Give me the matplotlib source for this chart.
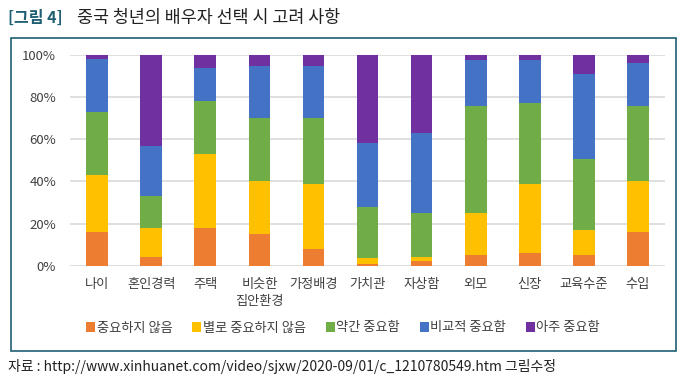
import numpy as np
import matplotlib
matplotlib.use("Agg")
import matplotlib.pyplot as plt
from matplotlib.patches import Rectangle

plt.rcParams['font.family'] = ['Noto Sans CJK KR', 'DejaVu Sans']

# ---- data (percent) ----
categories = ['나이', '혼인경력', '주택', '비슷한\n집안환경', '가정배경', '가치관',
              '자상함', '외모', '신장', '교육수준', '수입']
series_names = ['중요하지 않음', '별로 중요하지 않음', '약간 중요함', '비교적 중요함', '아주 중요함']
not_important = [16, 4, 18, 15, 8, 1, 2.4, 5, 6, 5, 16]
not_very = [27, 14, 35, 25, 31, 2.5, 1.7, 20, 33, 12, 24]
somewhat = [30, 15, 25, 30, 31, 24.5, 21, 51, 38, 33.5, 36]
fairly = [25, 24, 16, 25, 25, 30, 38, 21.5, 20.5, 40.5, 20]
very = [2, 43, 6, 5, 5, 42, 37, 2.5, 2.5, 9, 4]
series = [not_important, not_very, somewhat, fairly, very]
colors = ['#ED7D31', '#FFC000', '#70AD47', '#4472C4', '#7030A0']

W, H = 686, 384
fig = plt.figure(figsize=(W / 100, H / 100), dpi=100)

# frame around the chart
fig.patches.append(Rectangle((11 / W, 1 - 351 / H), (676 - 11) / W, (351 - 38) / H,
                             transform=fig.transFigure, fill=False,
                             edgecolor='#1F5F73', linewidth=1.2))

ax = fig.add_axes([70 / W, 1 - 265.7 / H, (665 - 70) / W, (265.7 - 55) / H])
x = np.arange(len(categories))
bottom = np.zeros(len(categories))
handles = []
for vals, name, col in zip(series, series_names, colors):
    vals = np.array(vals, dtype=float)
    b = ax.bar(x, vals, 0.4, bottom=bottom, color=col, label=name, zorder=3)
    handles.append(b)
    bottom += vals

ax.set_xlim(-0.5, len(categories) - 0.5)
ax.set_ylim(0, 100)
ax.set_yticks(range(0, 101, 20))
ax.set_yticklabels([f'{v}%' for v in range(0, 101, 20)])
ax.set_xticks(x)
ax.set_xticklabels(categories, linespacing=1.4, va='top')
ax.yaxis.grid(True, color='#D9D9D9', linewidth=1.2, zorder=0)
ax.tick_params(length=0, labelsize=9.5, colors='#404040')
ax.tick_params(axis='y', pad=10)
ax.tick_params(axis='x', pad=9)
for s in ax.spines.values():
    s.set_visible(False)

leg = fig.legend(handles=handles, loc='center', bbox_to_anchor=(0.5, 1 - 328 / H),
                 ncol=5, frameon=False, fontsize=9.5, handlelength=0.7, handleheight=0.7,
                 handletextpad=0.1, columnspacing=1.5)
for t in leg.get_texts():
    t.set_color('#404040')

# title and source
fig.text(8 / W, 1 - 18 / H, '[그림 4]', fontsize=11.5, fontweight='bold', color='#1F5F73',
         va='center', ha='left')
fig.text(77 / W, 1 - 18 / H, '중국 청년의 배우자 선택 시 고려 사항', fontsize=12.5,
         color='#222222', va='center', ha='left')
fig.text(8 / W, 1 - 366 / H,
         '자료 : http://www.xinhuanet.com/video/sjxw/2020-09/01/c_1210780549.htm 그림수정',
         fontsize=10, color='#222222', va='center', ha='left')

fig.savefig('out.png', dpi=100)
